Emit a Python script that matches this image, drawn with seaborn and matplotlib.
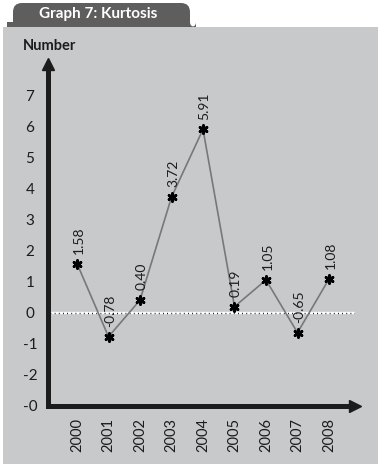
import matplotlib
matplotlib.use("Agg")
import matplotlib.pyplot as plt
import matplotlib.transforms as mtransforms
from matplotlib.patches import FancyBboxPatch, Rectangle
import seaborn as sns

years = ["2000", "2001", "2002", "2003", "2004", "2005", "2006", "2007", "2008"]
kurtosis = [1.58, -0.78, 0.40, 3.72, 5.91, 0.19, 1.05, -0.65, 1.08]
value_labels = ["1.58", "-0.78", "0.40", "3.72", "5.91", "0.19", "1.05", "-0.65", "1.08"]
y_ticks = [7, 6, 5, 4, 3, 2, 1, 0, -1, -2, -3]
y_tick_labels = ["7", "6", "5", "4", "3", "2", "1", "0", "-1", "-2", "-0"]

W, H = 378, 473
PANEL = "#c8c9cb"
TAB = "#5e5e5e"
INK = "#1c1c1c"

sns.set_style("white")
plt.rcParams["font.family"] = ["Lato", "DejaVu Sans"]

fig = plt.figure(figsize=(W / 100, H / 100), dpi=100)
fig.patch.set_facecolor("white")

# pixel coordinates (origin bottom left)
px = mtransforms.Affine2D().scale(1 / 100) + fig.dpi_scale_trans

# title tab and grey panel
tab = FancyBboxPatch((13, 436), 177, 34, boxstyle="round,pad=0,rounding_size=9",
                     transform=px, facecolor=TAB, edgecolor="none", zorder=0)
fig.patches.append(tab)
# little flares at the foot of the tab
for fx in (7, 190):
    fig.patches.append(Rectangle((fx, 446), 6, 5, transform=px, facecolor=TAB,
                                 edgecolor="none", zorder=0))
    cx = fx if fx < 13 else fx + 6
    fig.patches.append(FancyBboxPatch((cx - 6, 446), 6, 12,
                                      boxstyle="round,pad=0,rounding_size=5",
                                      transform=px, facecolor="white",
                                      edgecolor="none", zorder=0.5))
panel = Rectangle((3, 9), 380, 437, transform=px, facecolor=PANEL,
                  edgecolor="none", zorder=1)
fig.patches.append(panel)
fig.text(98 / W, 1 - 14 / H, "Graph 7: Kurtosis", color="white", fontsize=11,
         fontweight="bold", ha="center", va="center", zorder=3)
fig.text(50 / W, 1 - 46 / H, "Number", color=INK, fontsize=10.5,
         fontweight="bold", ha="center", va="center", zorder=3)

# axes placed so the y axis sits at x=47.5px and x axis at y=405.5px
left, right, top, bottom = 47.5, 355, 64, 405.5
ax = fig.add_axes([left / W, 1 - bottom / H, (right - left) / W, (bottom - top) / H])
ax.set_facecolor("none")
ax.set_zorder(2)

x = list(range(len(years)))
ax.set_xlim((left - 77) / 31.5, (right - 77) / 31.5)
ax.set_ylim(-3, (312.5 - top) / 31.0)

# zero reference line: white dashes with black dots
x0, x1 = (50 - 77) / 31.5, (355 - 77) / 31.5
ax.plot([x0, x1], [0, 0], color="white", lw=1.7, zorder=2)
ax.plot([x0, x1], [0, 0], color="black", lw=1.0, ls=(0, (0.6, 2.4)), zorder=2)

sns.lineplot(x=x, y=kurtosis, ax=ax, color="#787878", lw=1.2, zorder=3)
sns.scatterplot(x=x, y=kurtosis, ax=ax, marker=(6, 2, 0), s=32, color="black",
                linewidth=2.0, edgecolor="black", zorder=4)

for xi, v, lab in zip(x, kurtosis, value_labels):
    ax.annotate(lab, (xi, v), textcoords="offset points", xytext=(1, 7),
                rotation=90, ha="center", va="bottom", fontsize=10, color=INK)

# axes with arrow heads
for side in ["top", "right"]:
    ax.spines[side].set_visible(False)
for side in ["left", "bottom"]:
    ax.spines[side].set_linewidth(3.6)
    ax.spines[side].set_color(INK)
    ax.spines[side].set_capstyle("projecting")
ax.plot(1, 0, ">", color=INK, ms=9, transform=ax.transAxes, clip_on=False)
ax.plot(0, 1, "^", color=INK, ms=9, transform=ax.transAxes, clip_on=False)

ax.set_xticks(x)
ax.set_xticklabels(years, rotation=90, fontsize=10.5, color=INK)
ax.tick_params(axis="x", direction="inout", length=12, width=1.5, color=INK, pad=3)
ax.set_yticks(y_ticks)
ax.set_yticklabels(y_tick_labels, fontsize=11, color=INK)
ax.tick_params(axis="y", length=0, pad=12.6)
for t in ax.get_yticklabels():
    t.set_horizontalalignment("center")
ax.set_xlabel("")
ax.set_ylabel("")
ax.grid(False)

fig.savefig("out.png", dpi=100)
